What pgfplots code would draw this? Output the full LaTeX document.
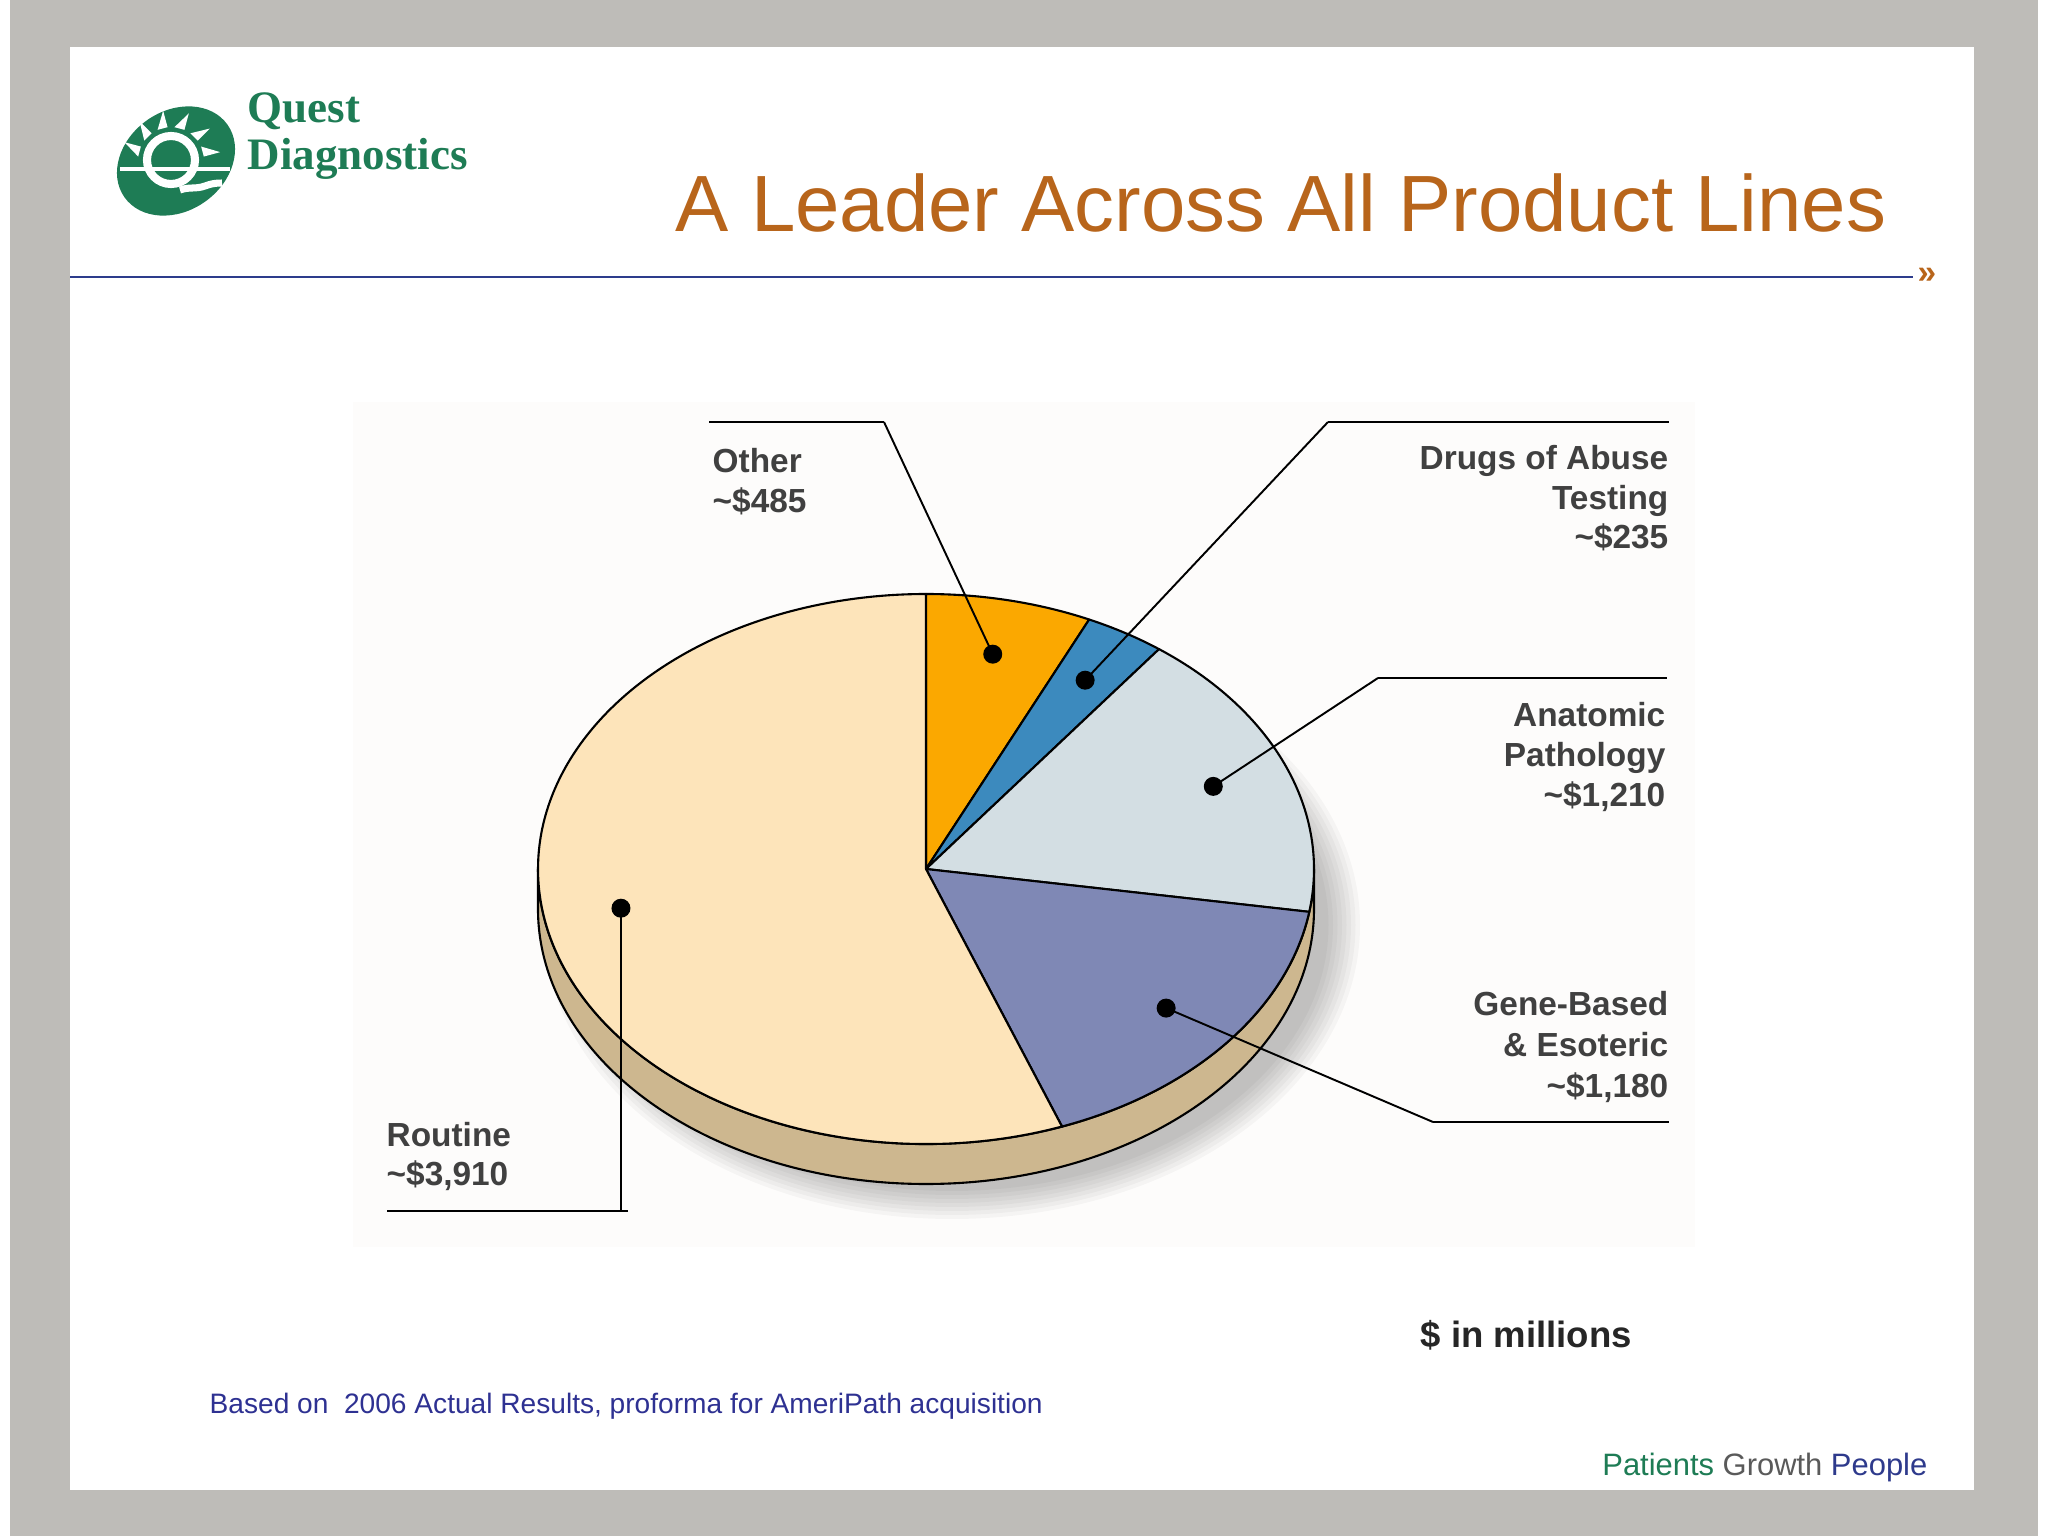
\documentclass[border=0pt]{standalone}
\usepackage{pgfplots}
\pgfplotsset{compat=1.18}
\usepackage{pgfplotstable}
\usepackage{fontspec}
\setmainfont{Liberation Sans}
\newfontfamily\logofont{Liberation Serif}

\definecolor{cBg}{RGB}{190,188,184}
\definecolor{cPanel}{RGB}{253,252,251}
\definecolor{cOther}{RGB}{251,168,0}
\definecolor{cDrugs}{RGB}{60,138,190}
\definecolor{cAnat}{RGB}{211,222,227}
\definecolor{cGene}{RGB}{127,136,181}
\definecolor{cRoutine}{RGB}{253,228,186}
\definecolor{cSide}{RGB}{205,183,143}
\definecolor{cLabel}{RGB}{64,64,64}
\definecolor{cTitle}{RGB}{184,101,27}
\definecolor{cRule}{RGB}{45,60,140}
\definecolor{cGreen}{RGB}{30,124,85}
\definecolor{cFoot}{RGB}{46,49,146}
\definecolor{cGrowth}{RGB}{90,90,90}
\definecolor{cPeople}{RGB}{46,58,140}

% revenue by product line, $ millions (2006, proforma)
\pgfplotstableread{
name value col
Other 485 cOther
Drugs 235 cDrugs
Anatomic 1210 cAnat
Gene 1180 cGene
Routine 3910 cRoutine
}\piedata

\tikzset{lbl/.style={font=\fontsize{9.5}{11.4}\selectfont\bfseries, text=cLabel, inner sep=0pt}}

\begin{document}
\begin{tikzpicture}
% slice angles, clockwise from the top
\def\pietotal{0}
\pgfplotsforeachungrouped \i in {0,...,4}{%
  \pgfplotstablegetelem{\i}{value}\of\piedata
  \pgfmathsetmacro{\pietotal}{\pietotal+\pgfplotsretval}%
}
\def\pieang{90}
\pgfplotsforeachungrouped \i in {0,...,4}{%
  \pgfplotstablegetelem{\i}{value}\of\piedata
  \pgfmathsetmacro{\sweep}{360*(\pgfplotsretval/\pietotal)}%
  \expandafter\edef\csname pieS\i\endcsname{\pieang}%
  \pgfmathsetmacro{\pieang}{\pieang-\sweep}%
  \expandafter\edef\csname pieE\i\endcsname{\pieang}%
  \pgfmathsetmacro{\tmp}{\pieang+\sweep/2}%
  \expandafter\edef\csname pieM\i\endcsname{\tmp}%
  \pgfplotstablegetelem{\i}{col}\of\piedata
  \expandafter\edef\csname pieC\i\endcsname{\pgfplotsretval}%
}

\begin{axis}[width=20.48cm, height=15.36cm, scale only axis,
  xmin=0, xmax=2048, ymin=0, ymax=1536, y dir=reverse,
  hide axis, clip=false]

% slide frame
\fill[white] (0,0) rectangle (2048,1536);
\fill[cBg] (10,0) rectangle (2038,1536);
\fill[white] (70,47) rectangle (1974,1490);
\fill[cPanel] (353,402) rectangle (1695,1247);

% logo
\fill[cGreen, rotate around={35:(176,161)}] (176,161) ellipse[x radius=0.63cm, y radius=0.5cm];
\pgfplotsinvokeforeach{15,45,75,105,135,165}{
  \fill[white] (171,160) ++(#1-9:0.33cm) -- ++(#1:0.17cm) -- ([shift={(#1+9:0.33cm)}]171,160) -- cycle;
}
\draw[white, line width=2.3pt] (171,160) circle[radius=0.24cm];
\draw[white, line width=1.4pt] (120,169) -- (230,169);
\draw[white, line width=2pt] (180,190) to[out=20,in=200] (205,186) to[out=20,in=180] (222,183);
\node[anchor=base west, inner sep=0pt, text=cGreen, font=\logofont\bfseries\fontsize{12.8}{14}\selectfont] at (247,123) {Quest};
\node[anchor=base west, inner sep=0pt, text=cGreen, font=\logofont\bfseries\fontsize{12.8}{14}\selectfont] at (247,170) {Diagnostics};

% title and rule
\node[anchor=base west, inner sep=0pt, text=cTitle, font=\fontsize{22.7}{26}\selectfont] at (675,232) {A Leader Across All Product Lines};
\draw[cRule, line width=0.85pt] (70,277) -- (1913,277);
\node[anchor=west, inner sep=0pt, text=cTitle, font=\fontsize{9.5}{11}\selectfont\bfseries] at (1917,276) {»};

% soft shadow
\pgfplotsinvokeforeach{1,...,8}{
  \fill[black, opacity=0.03] (952,925) ellipse[x radius={3.72cm+#1*0.045cm}, y radius={2.62cm+#1*0.04cm}];
}
% side of the disc
\filldraw[fill=cSide, draw=black, line width=0.6pt] (926,869) ++(180:3.88cm and 2.75cm)
  arc[start angle=180, end angle=360, x radius=3.88cm, y radius=2.75cm]
  -- ++(0,-0.4cm)
  arc[start angle=0, end angle=-180, x radius=3.88cm, y radius=2.75cm] -- cycle;

% slices
\pgfplotsforeachungrouped \i in {0,...,4}{%
  \edef\doslice{\noexpand\filldraw[fill=\csname pieC\i\endcsname, draw=black, line width=0.6pt, line join=round]
    (926,869) -- ++(\csname pieS\i\endcsname:3.88cm and 2.75cm)
    arc[start angle=\csname pieS\i\endcsname, end angle=\csname pieE\i\endcsname, x radius=3.88cm, y radius=2.75cm] -- cycle;}%
  \doslice
  \edef\dodot{\noexpand\path (926,869) ++(\csname pieM\i\endcsname:3.1cm and 2.2cm) coordinate (d\i);}%
  \dodot
}

% leader lines
\draw[line width=0.55pt] (d0) -- (884,422);
\draw[line width=0.8pt] (884,422) -- (709,422);
\draw[line width=0.55pt] (d1) -- (1328,422);
\draw[line width=0.8pt] (1328,422) -- (1669,422);
\draw[line width=0.55pt] (d2) -- (1378,678);
\draw[line width=0.8pt] (1378,678) -- (1667,678);
\draw[line width=0.55pt] (d3) -- (1433,1122);
\draw[line width=0.8pt] (1433,1122) -- (1669,1122);
\draw[line width=0.55pt] (d4) |- (387,1211);
\draw[line width=0.8pt] (628,1211) -- (387,1211);
\pgfplotsinvokeforeach{0,...,4}{\fill (d#1) circle[radius=0.095cm];}

% labels
\node[lbl, anchor=base west] at (712,473) {Other};
\node[lbl, anchor=base west] at (712,513) {\textasciitilde\$485};
\node[lbl, anchor=base east] at (1669,470) {Drugs of Abuse};
\node[lbl, anchor=base east] at (1669,510) {Testing};
\node[lbl, anchor=base east] at (1669,549) {\textasciitilde\$235};
\node[lbl, anchor=base east] at (1666,727) {Anatomic};
\node[lbl, anchor=base east] at (1666,767) {Pathology};
\node[lbl, anchor=base east] at (1666,807) {\textasciitilde\$1,210};
\node[lbl, anchor=base east] at (1669,1016) {Gene-Based};
\node[lbl, anchor=base east] at (1669,1057) {\& Esoteric};
\node[lbl, anchor=base east] at (1669,1098) {\textasciitilde\$1,180};
\node[lbl, anchor=base west] at (386,1147) {Routine};
\node[lbl, anchor=base west] at (386,1186) {\textasciitilde\$3,910};

% notes
\node[anchor=base west, inner sep=0pt, font=\fontsize{10.4}{12}\selectfont\bfseries, text=black!85] at (1420,1348) {\$ in millions};
\node[anchor=base west, inner sep=0pt, font=\fontsize{8.0}{10}\selectfont, text=cFoot] at (209,1414) {Based on\ \ 2006 Actual Results, proforma for AmeriPath acquisition};
\node[anchor=base east, inner sep=0pt, font=\fontsize{8.8}{10}\selectfont] at (1928,1475) {\textcolor{cGreen}{Patients} \textcolor{cGrowth}{Growth} \textcolor{cPeople}{People}};
\end{axis}
\end{tikzpicture}
\end{document}
